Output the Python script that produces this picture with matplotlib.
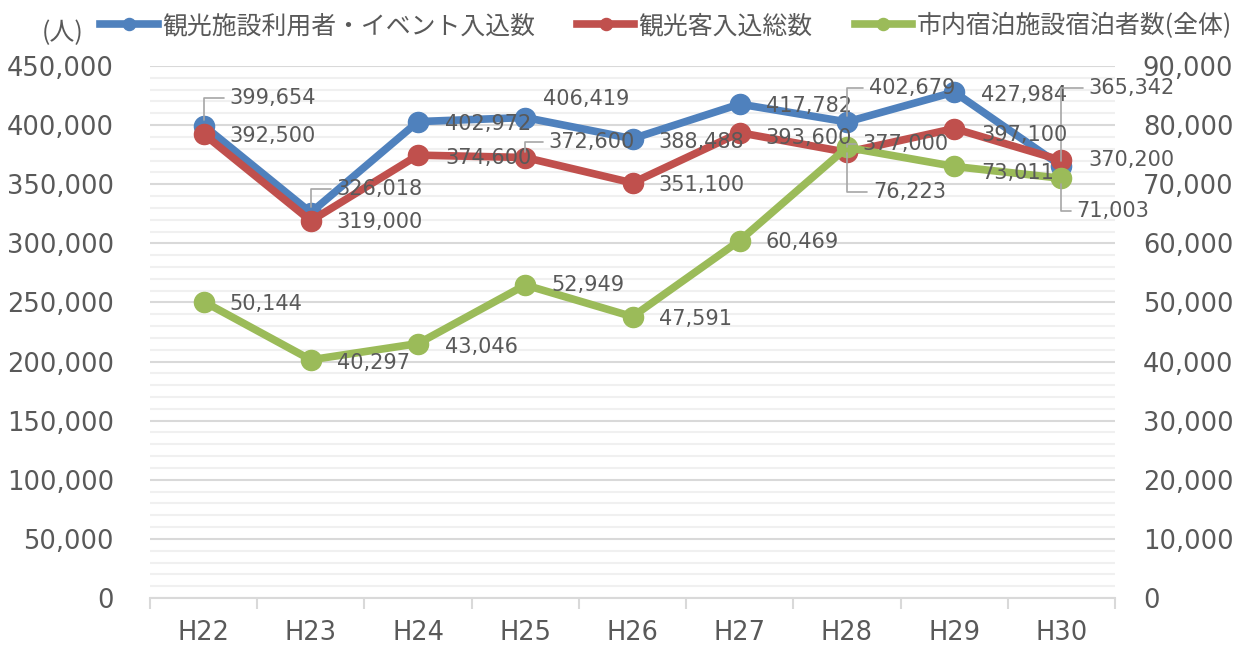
import matplotlib
matplotlib.use("Agg")
from matplotlib import pyplot as plt
from matplotlib.ticker import MultipleLocator, FuncFormatter
import numpy as np

years = ["H22", "H23", "H24", "H25", "H26", "H27", "H28", "H29", "H30"]
facility = [399654, 326018, 402972, 406419, 388488, 417782, 402679, 427984, 365342]
visitors = [392500, 319000, 374600, 372600, 351100, 393600, 377000, 397100, 370200]
lodging = [50144, 40297, 43046, 52949, 47591, 60469, 76223, 73011, 71003]
names = ["観光施設利用者・イベント入込数", "観光客入込総数", "市内宿泊施設宿泊者数(全体)"]

blue = "#4f81bd"
red = "#c0504d"
green = "#9bbb59"
txt = "#595959"
lead = "#a6a6a6"

plt.rcParams['font.family'] = ['DejaVu Sans']
jp = ['Noto Sans CJK JP', 'DejaVu Sans']

fig = plt.figure(figsize=(12.48, 6.49), dpi=100)
ax = fig.add_axes([150/1248, 1-598/649, 965/1248, 532/649])
ax2 = ax.twinx()

x = np.arange(len(years))
l1, = ax.plot(x, facility, color=blue, lw=5.5, marker='o', ms=14.5, zorder=3)
l2, = ax.plot(x, visitors, color=red, lw=5.5, marker='o', ms=14.5, zorder=4)
l3, = ax2.plot(x, lodging, color=green, lw=5.5, marker='o', ms=14.5, zorder=3)

ax.set_xlim(-0.5, 8.5)
ax.set_ylim(0, 450000)
ax2.set_ylim(0, 90000)

fmt = FuncFormatter(lambda v, p: f"{int(v):,}")
ax.yaxis.set_major_locator(MultipleLocator(50000))
ax.yaxis.set_minor_locator(MultipleLocator(10000))
ax.yaxis.set_major_formatter(fmt)
ax2.yaxis.set_major_locator(MultipleLocator(10000))
ax2.yaxis.set_major_formatter(fmt)

ax.grid(axis='y', which='minor', color='#f0f0f0', lw=1.5, zorder=0)
ax.grid(axis='y', which='major', color='#d9d9d9', lw=1.5, zorder=0)
ax.set_axisbelow(True)

for a in (ax, ax2):
    for s in a.spines.values():
        s.set_visible(False)
ax.spines['bottom'].set_visible(True)
ax.spines['bottom'].set_color('#d9d9d9')
ax.spines['bottom'].set_linewidth(1.5)

ax.set_xticks(x)
ax.set_xticklabels(years)
ax.set_xticks(np.arange(-0.5, 9.0, 1.0), minor=True)
ax.tick_params(axis='x', which='major', length=0, pad=16, labelsize=18.5, labelcolor=txt)
ax.tick_params(axis='x', which='minor', length=8, width=1.5, color='#d9d9d9')
ax.tick_params(axis='y', which='both', length=0, pad=26, labelsize=18.5, labelcolor=txt)
ax2.tick_params(axis='y', length=0, pad=20, labelsize=18.5, labelcolor=txt)


def label(a, i, v, dx=26, dy=-2, leader=None):
    kw = {}
    if leader:
        kw['arrowprops'] = dict(arrowstyle='-', color=lead, lw=1.2,
                                connectionstyle=leader, shrinkA=2, shrinkB=4)
    ax2.annotate(f"{v:,}", xy=(i, v), xycoords=a.transData,
                 xytext=(dx, dy), textcoords='offset pixels',
                 ha='left', va='center', fontsize=15, color=txt, zorder=10,
                 annotation_clip=False, **kw)


up = "angle,angleA=180,angleB=90,rad=0"
down = "angle,angleA=180,angleB=-90,rad=0"

# label offsets in pixels from each point, with leader style
blue_off = [(26, 28, up), (26, 24, up), (27, -2, None), (18, 19, None), (26, -3, None),
            (26, -2, None), (22, 34, up), (27, -3, None), (27, 78, up)]
red_off = [(26, -2, None), (26, -1, None), (27, -3, None), (23, 16, up), (26, -2, None),
           (26, -5, None), (15, 8, up), (27, -6, None), (27, 0, None)]
green_off = [(26, -2, None), (26, -3, None), (27, -3, None), (26, 0, None), (26, -2, None),
             (26, -1, None), (26, -45, down), (27, -7, None), (15, -33, down)]

for i, v in enumerate(facility):
    dx, dy, ld = blue_off[i]
    label(ax, i, v, dx, dy, ld)
for i, v in enumerate(visitors):
    dx, dy, ld = red_off[i]
    label(ax, i, v, dx, dy, ld)
for i, v in enumerate(lodging):
    dx, dy, ld = green_off[i]
    label(ax2, i, v, dx, dy, ld)

fig.legend([l1, l2, l3], names, loc='center', bbox_to_anchor=(666/1248, 1-26/649),
           ncol=3, frameon=False, handlelength=2.3, handletextpad=0.17,
           columnspacing=1.7, prop={'family': jp, 'size': 17.9}, labelcolor=txt,
           markerscale=0.6)

fig.text(63/1248, 1-33/649, "(人)", ha='center', va='center', fontsize=18,
         color=txt, family=jp)

fig.savefig("out.png", dpi=100)
